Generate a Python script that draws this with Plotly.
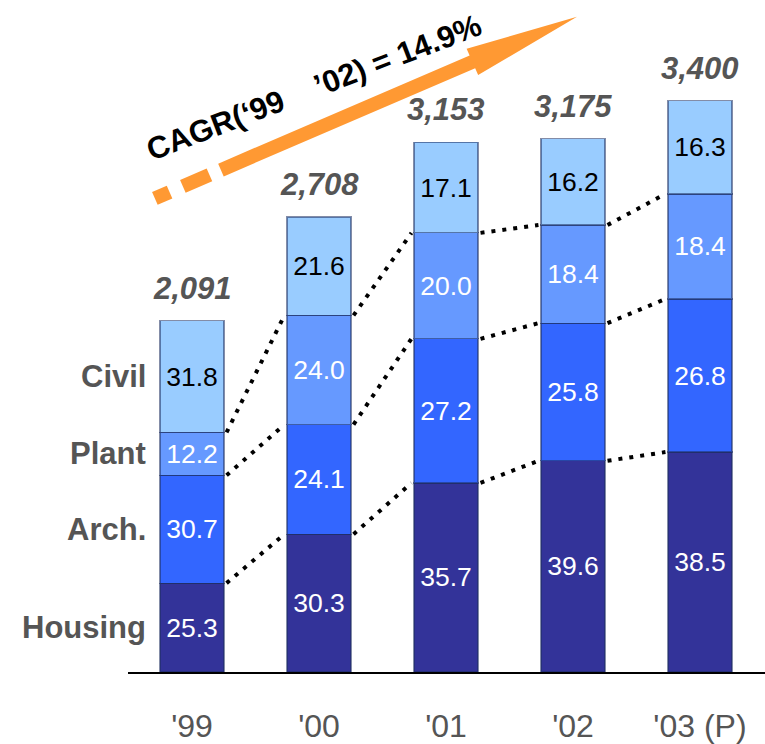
import math
import plotly.graph_objects as go

# ---------------- data ----------------
years = ["'99", "'00", "'01", "'02", "'03 (P)"]
totals = [2091, 2708, 3153, 3175, 3400]
housing = [25.3, 30.3, 35.7, 39.6, 38.5]
arch = [30.7, 24.1, 27.2, 25.8, 26.8]
plant = [12.2, 24.0, 20.0, 18.4, 18.4]
civil = [31.8, 21.6, 17.1, 16.2, 16.3]
segment_names = ["Housing", "Arch.", "Plant", "Civil"]
cagr_text = "CAGR(\u201899\u00a0\u00a0\u00a0\u00a0\u201902) = 14.9%"

# ---------------- style ----------------
W, H = 765, 744
ML, MR, MT, MB = 128, 0, 0, 67
colors = ["#333399", "#3366FF", "#6699FF", "#99CCFF"]
text_colors = ["white", "white", "white", "black"]
bar_w = 0.504
gray = "#555555"
FONT = "Liberation Sans, Arial, sans-serif"

x = list(range(len(years)))
shares = [housing, arch, plant, civil]

fig = go.Figure()

# stacked bars: segment height = total * share
for k, (name, sh) in enumerate(zip(segment_names, shares)):
    vals = [t * s / 100.0 for t, s in zip(totals, sh)]
    fig.add_trace(go.Bar(
        x=x, y=vals, width=bar_w, name=name,
        marker=dict(color=colors[k], line=dict(color="rgba(30,45,95,0.55)", width=1.2)),
        text=[f"{s:.1f}" for s in sh],
        textposition="inside", insidetextanchor="middle",
        textfont=dict(size=26.5, color=text_colors[k], family=FONT),
        hoverinfo="skip",
    ))

# dotted connectors at the cumulative boundaries
cum = [0.0] * len(totals)
for k in range(3):
    cum = [c + t * s / 100.0 for c, t, s in zip(cum, totals, shares[k])]
    lx, ly = [], []
    for i in range(len(x) - 1):
        lx += [x[i] + bar_w / 2 + 0.02, x[i + 1] - bar_w / 2 - 0.02, None]
        ly += [cum[i], cum[i + 1], None]
    fig.add_trace(go.Scatter(
        x=lx, y=ly, mode="lines",
        line=dict(color="black", width=4, dash="4px,7px"),
        hoverinfo="skip", cliponaxis=False,
    ))

annotations = []
# totals above bars
for xi, t in zip(x, totals):
    annotations.append(dict(
        x=xi, y=t, xref="x", yref="y", yanchor="bottom", yshift=13,
        text=f"<b><i>{t:,}</i></b>", showarrow=False,
        font=dict(size=31, color=gray, family=FONT),
    ))
# left-side segment names at '99 segment centres
cum0 = 0.0
for k, name in enumerate(segment_names):
    seg = totals[0] * shares[k][0] / 100.0
    annotations.append(dict(
        x=-0.345, y=cum0 + seg / 2, xref="x", yref="y",
        xanchor="right", yanchor="middle",
        text=f"<b>{name}</b>", showarrow=False,
        font=dict(size=31, color=gray, family=FONT),
    ))
    cum0 += seg

PW = W - ML - MR
PH = H - MT - MB


def px2paper(X, Y):
    return ((X - ML) / PW, (PH + MT - Y) / PH)


# CAGR label
cx, cy = px2paper(314, 88)
annotations.append(dict(
    x=cx, y=cy, xref="paper", yref="paper", xanchor="center", yanchor="middle",
    text=f"<b>{cagr_text}</b>", showarrow=False, textangle=-21,
    font=dict(size=31, color="black", family=FONT),
))

# orange growth arrow (decoration, built in pixel space)
T = (153.5, 200.5)
P = (577.0, 17.0)
L = math.hypot(P[0] - T[0], P[1] - T[1])
u = ((P[0] - T[0]) / L, (P[1] - T[1]) / L)
n = (-u[1], u[0])
shaft_w = 14.0
head_len, head_w = 114.0, 29.0


def pt(s, off):
    X = T[0] + u[0] * s + n[0] * off
    Y = T[1] + u[1] * s + n[1] * off
    return px2paper(X, Y)


def poly(points):
    return "M " + " L ".join(f"{a:.5f},{b:.5f}" for a, b in points) + " Z"


shapes = []
for s0, s1 in [(1.5, 17.5), (32.0, 61.0)]:
    shapes.append(dict(type="path", xref="paper", yref="paper",
                       path=poly([pt(s0, -shaft_w / 2), pt(s1, -shaft_w / 2),
                                  pt(s1, shaft_w / 2), pt(s0, shaft_w / 2)]),
                       fillcolor="#FF9933", line=dict(width=0)))
hb = L - head_len
shapes.append(dict(type="path", xref="paper", yref="paper",
                   path=poly([pt(73.5, -shaft_w / 2), pt(hb, -shaft_w / 2), pt(hb, -head_w / 2),
                              pt(L, 0), pt(hb, head_w / 2), pt(hb, shaft_w / 2),
                              pt(73.5, shaft_w / 2)]),
                   fillcolor="#FF9933", line=dict(width=0)))

fig.update_layout(
    width=W, height=H,
    margin=dict(l=ML, r=MR, t=MT, b=MB, pad=0),
    barmode="stack", showlegend=False,
    plot_bgcolor="white", paper_bgcolor="white",
    annotations=annotations, shapes=shapes,
    font=dict(family=FONT),
    xaxis=dict(range=[-0.504, 4.512], tickvals=x, ticktext=years,
               showline=True, linecolor="black", linewidth=1.5,
               showgrid=False, zeroline=False, ticks="",
               ticklabelstandoff=25,
               tickfont=dict(size=32, color=gray, family=FONT)),
    yaxis=dict(range=[0, 4000], visible=False, showgrid=False, zeroline=False),
)

fig.write_html("out.html")
